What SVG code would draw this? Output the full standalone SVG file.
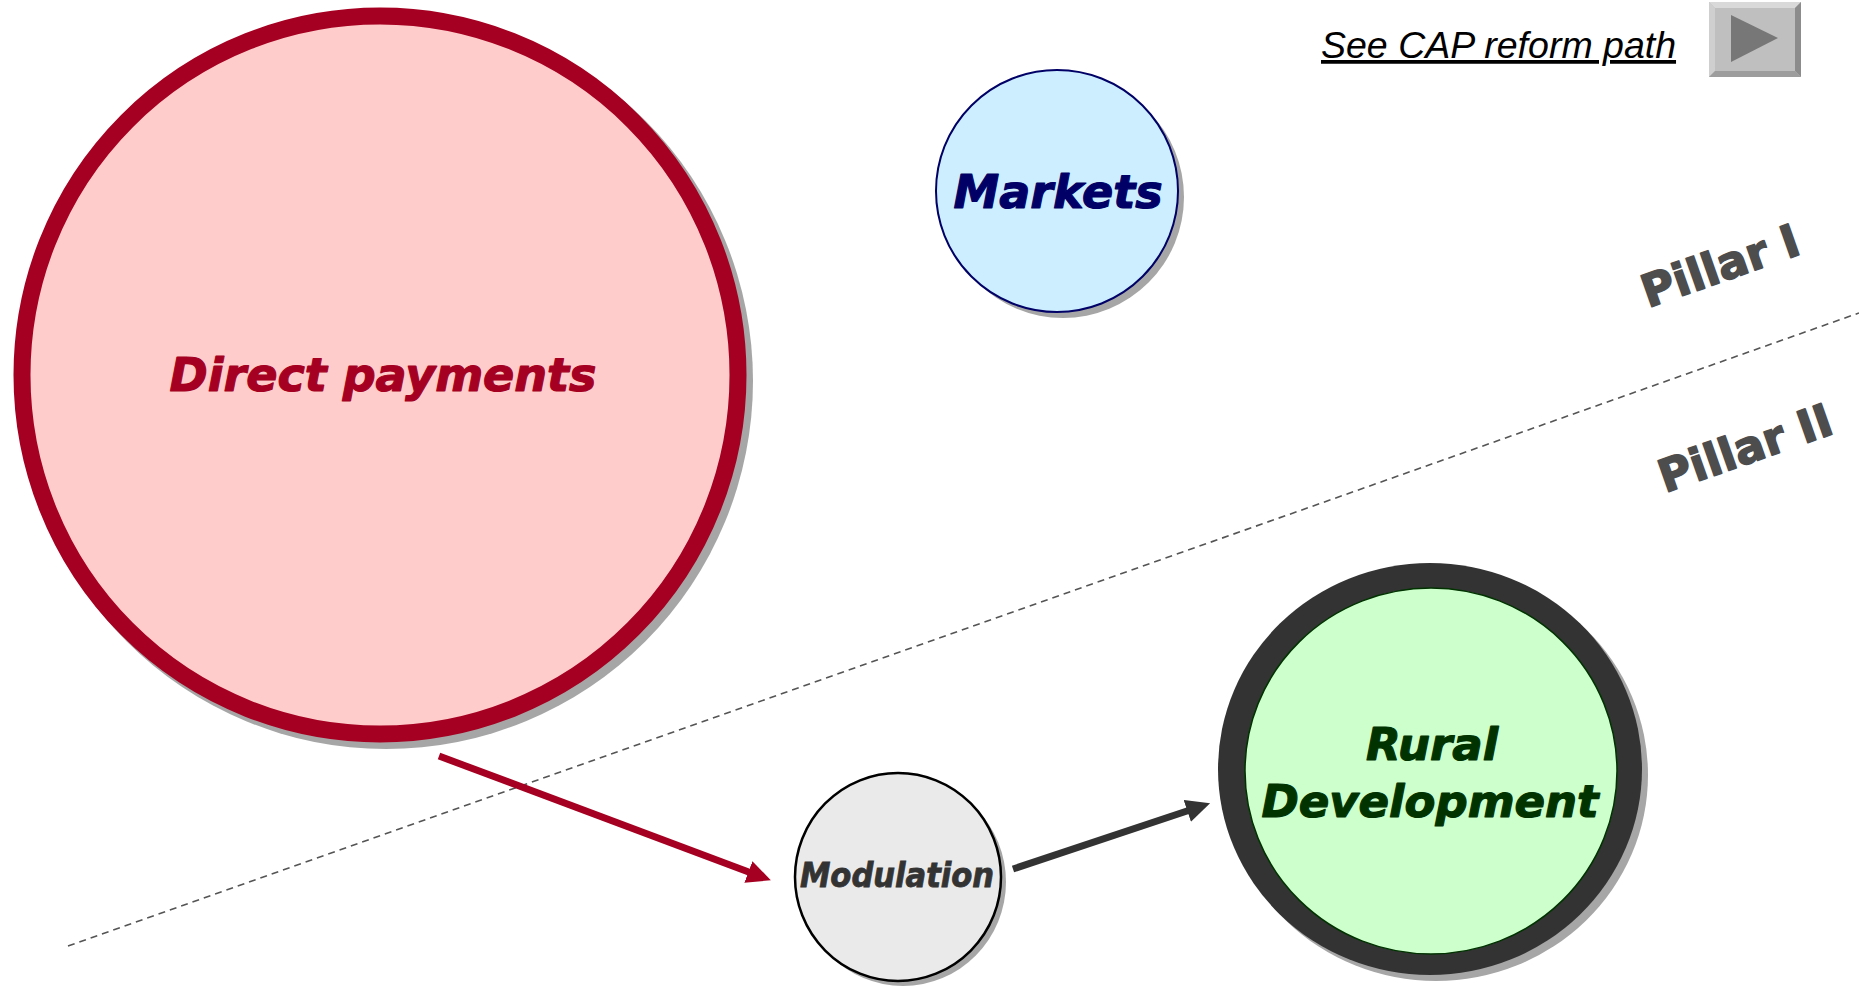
<svg xmlns="http://www.w3.org/2000/svg" width="1859" height="987" viewBox="0 0 1859 987">
  <style>
    .lbl { font-family: "DejaVu Sans", "Liberation Sans", sans-serif; font-weight: bold; font-style: italic; text-anchor: middle; stroke-width: 1.2; stroke-linejoin: round; }
    .pillar { font-family: "DejaVu Sans", "Liberation Sans", sans-serif; font-weight: bold; fill: #4d4d4d; stroke: #4d4d4d; stroke-width: 1.6; stroke-linejoin: round; font-size: 45px; }
    .shadow { fill: #a6a6a6; }
    .link { fill: none; stroke-width: 7; }
  </style>
  <defs>
    <marker id="ahRed" markerUnits="userSpaceOnUse" markerWidth="26" markerHeight="24" refX="6" refY="11.5" orient="auto">
      <path d="M0,0 L24,11.5 L0,23 z" fill="#a50021"/>
    </marker>
    <marker id="ahDark" markerUnits="userSpaceOnUse" markerWidth="26" markerHeight="24" refX="6" refY="11.5" orient="auto">
      <path d="M0,0 L24,11.5 L0,23 z" fill="#333333"/>
    </marker>
  </defs>
  <rect width="1859" height="987" fill="#ffffff"/>

  <g id="pillar-divider">
    <line x1="68" y1="946" x2="1859" y2="313" stroke="#555555" stroke-width="1.6" stroke-dasharray="7,5"/>
    <text class="pillar" transform="translate(1648,308) rotate(-19.4)">Pillar I</text>
    <text class="pillar" transform="translate(1665,493) rotate(-19.4)">Pillar II</text>
  </g>

  <g id="cap-link">
    <text x="1321" y="58" font-family="Liberation Sans, Arial, sans-serif" font-style="italic" font-size="37.5" fill="#000000" text-decoration="underline">See CAP reform path</text>
  </g>

  <g id="play-button">
    <rect x="1709" y="2" width="92" height="75" fill="#bfbfbf"/>
    <polygon points="1709,2 1801,2 1795,8 1715,8" fill="#d9d9d9"/>
    <polygon points="1709,2 1715,8 1715,71 1709,77" fill="#cfcfcf"/>
    <polygon points="1801,2 1801,77 1795,71 1795,8" fill="#8c8c8c"/>
    <polygon points="1709,77 1801,77 1795,71 1715,71" fill="#9d9d9d"/>
    <polygon points="1731,15 1778,38 1731,62" fill="#777777"/>
  </g>

  <g id="direct-payments">
    <ellipse class="shadow" cx="386" cy="381" rx="367" ry="368"/>
    <ellipse cx="380" cy="375" rx="358" ry="359" fill="#ffcccc" stroke="#a50021" stroke-width="17"/>
    <text class="lbl" x="383" y="391" font-size="46" fill="#a50021" stroke="#a50021">Direct payments</text>
  </g>

  <g id="markets">
    <ellipse class="shadow" cx="1063" cy="197" rx="121" ry="121"/>
    <ellipse cx="1057" cy="191" rx="121" ry="121" fill="#cceeff" stroke="#000066" stroke-width="2"/>
    <text class="lbl" x="1058" y="208" font-size="46" fill="#000066" stroke="#000066">Markets</text>
  </g>

  <g id="modulation">
    <ellipse class="shadow" cx="903" cy="882" rx="103" ry="104"/>
    <ellipse cx="898" cy="877" rx="103" ry="104" fill="#eaeaea" stroke="#000000" stroke-width="2.5"/>
    <text x="897" y="887" font-family="DejaVu Sans Condensed, DejaVu Sans, sans-serif" font-weight="bold" font-style="italic" font-size="34" text-anchor="middle" fill="#333333" stroke="#333333" stroke-width="0.8">Modulation</text>
  </g>

  <g id="rural-development">
    <ellipse class="shadow" cx="1436" cy="775" rx="212" ry="206"/>
    <ellipse cx="1430" cy="769" rx="212" ry="206" fill="#333333"/>
    <ellipse cx="1431" cy="771" rx="186" ry="183" fill="#ccffcc" stroke="#003300" stroke-width="1.5"/>
    <text class="lbl" x="1432" y="760" font-size="45" fill="#003300" stroke="#003300">Rural</text>
    <text class="lbl" x="1430" y="817" font-size="45" fill="#003300" stroke="#003300">Development</text>
  </g>

  <g id="connectors">
    <line class="link" x1="439" y1="756" x2="754" y2="874" stroke="#a50021" marker-end="url(#ahRed)"/>
    <line class="link" x1="1013" y1="869" x2="1193" y2="809" stroke="#333333" marker-end="url(#ahDark)"/>
  </g>
</svg>
